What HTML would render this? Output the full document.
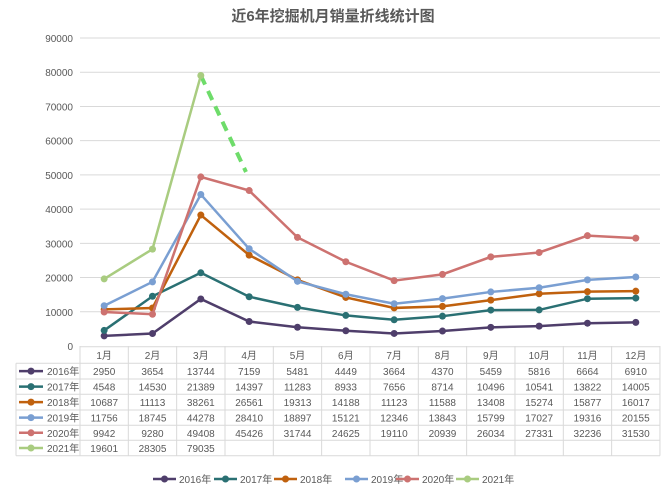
<!DOCTYPE html>
<html><head><meta charset="utf-8"><style>
body{margin:0;background:#fff;}
svg text{font-family:"Liberation Sans","Noto Sans CJK SC",sans-serif;}
</style></head><body>
<svg id="s" width="667" height="492" xmlns="http://www.w3.org/2000/svg"></svg>
<script>
const s=document.getElementById('s');
let h='';
h+='<text x="333" y="21" text-anchor="middle" font-size="15" font-weight="bold" fill="#595959">近6年挖掘机月销量折线统计图</text>';
const y0=346,k=308/90000,L=80,W=48.33;
for(let i=0;i<=9;i++){const y=y0-i*10000*k;
 if(i>0)h+=`<line x1="80" x2="660" y1="${y}" y2="${y}" stroke="#d9d9d9" stroke-width="1"/>`;
 h+=`<text x="73" y="${y+4}" text-anchor="end" font-size="10" fill="#595959">${i*10000}</text>`;}
const names=['2016年','2017年','2018年','2019年','2020年','2021年'];
const cols=['#4f3e6b','#2a7073','#c0610e','#7a9fd2','#cd7270','#a9cc80'];
const D=[[2950,3654,13744,7159,5481,4449,3664,4370,5459,5816,6664,6910],
[4548,14530,21389,14397,11283,8933,7656,8714,10496,10541,13822,14005],
[10687,11113,38261,26561,19313,14188,11123,11588,13408,15274,15877,16017],
[11756,18745,44278,28410,18897,15121,12346,13843,15799,17027,19316,20155],
[9942,9280,49408,45426,31744,24625,19110,20939,26034,27331,32236,31530],
[19601,28305,79035]];
const px=i=>L+W*(i+0.5), py=v=>y0-v*k;
h+=`<line x1="${px(2)}" y1="${py(79035)}" x2="246" y2="172" stroke="#6edc6a" stroke-width="4" stroke-dasharray="10,7"/>`;
for(let j=0;j<6;j++){const d=D[j];
 h+=`<polyline fill="none" stroke="${cols[j]}" stroke-width="2.5" points="${d.map((v,i)=>px(i)+','+py(v)).join(' ')}"/>`;
 d.forEach((v,i)=>h+=`<circle cx="${px(i)}" cy="${py(v)}" r="3.5" fill="${cols[j]}"/>`);}
// table
const ry=[346.7,363.3,379,394.3,410,425.3,440.3,455.7];
for(let i=0;i<=12;i++){const x=L+W*i;h+=`<line x1="${x}" x2="${x}" y1="346" y2="455.7" stroke="#d9d9d9"/>`;}
h+=`<line x1="16" x2="16" y1="363.3" y2="455.7" stroke="#d9d9d9"/>`;
ry.forEach((y,i)=>h+=`<line x1="${i==0?80:16}" x2="660" y1="${y}" y2="${y}" stroke="#d9d9d9"/>`);
for(let i=0;i<12;i++)h+=`<text x="${px(i)}" y="${(ry[0]+ry[1])/2+4}" text-anchor="middle" font-size="10" fill="#595959">${i+1}月</text>`;
for(let j=0;j<6;j++){const cy=(ry[j+1]+ry[j+2])/2;
 h+=`<line x1="19" x2="43" y1="${cy}" y2="${cy}" stroke="${cols[j]}" stroke-width="2.5"/><circle cx="31" cy="${cy}" r="3.5" fill="${cols[j]}"/>`;
 h+=`<text x="47" y="${cy+4}" font-size="10" fill="#595959">${names[j]}</text>`;
 D[j].forEach((v,i)=>h+=`<text x="${px(i)}" y="${cy+4}" text-anchor="middle" font-size="10" fill="#595959">${v}</text>`);}
const lx=[153,214,274,345,396,456];
for(let j=0;j<6;j++){const x=lx[j],cy=479;
 h+=`<line x1="${x}" x2="${x+23}" y1="${cy}" y2="${cy}" stroke="${cols[j]}" stroke-width="2.5"/><circle cx="${x+11.5}" cy="${cy}" r="3.5" fill="${cols[j]}"/>`;
 h+=`<text x="${x+26}" y="${cy+4}" font-size="10" fill="#595959">${names[j]}</text>`;}
s.innerHTML=h;
</script>
</body></html>
